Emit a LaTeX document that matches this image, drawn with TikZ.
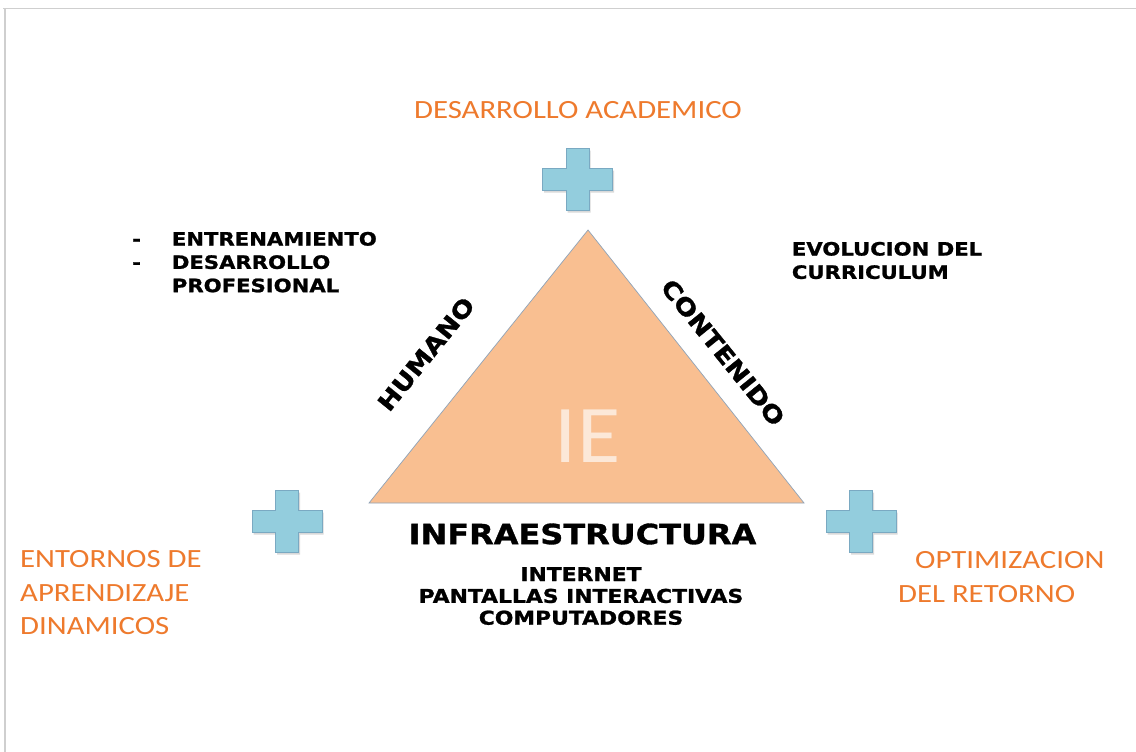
\documentclass[tikz,border=0pt]{standalone}
\usepackage{fontspec}
\newfontfamily\calfont{Carlito}[FakeStretch=1.17]
\newfontfamily\iefont{Carlito}[FakeStretch=1.08]
\newfontfamily\blkfont{DejaVu Sans}[FakeStretch=1.15, BoldFeatures={FakeBold=1.2}]
\definecolor{orangetxt}{HTML}{EE7A2D}
\definecolor{trifill}{HTML}{F9BF91}
\definecolor{triline}{HTML}{8FA3B8}
\definecolor{plusfill}{HTML}{93CDDD}
\definecolor{plusline}{HTML}{7AA9C2}
\definecolor{ietext}{HTML}{FCE8D8}
\definecolor{framegray}{HTML}{CFCFCF}
\tikzset{
  orangelbl/.style={inner sep=0pt, text=orangetxt, font=\calfont\fontsize{26.3}{33.5}\selectfont},
  blacklbl/.style={inner sep=0pt, text=black, font=\blkfont\bfseries\fontsize{18.4}{23.3}\selectfont},
  sidelbl/.style={inner sep=0pt, text=black, font=\blkfont\bfseries\fontsize{23.5}{28}\selectfont},
  plussign/.pic={
    \fill[black,opacity=.15,shift={(1.5,2.5)}]
      (-11.5,-31) -- (11.5,-31) -- (11.5,-11) -- (35,-11) -- (35,11) -- (11.5,11) -- (11.5,31)
      -- (-11.5,31) -- (-11.5,11) -- (-35,11) -- (-35,-11) -- (-11.5,-11) -- cycle;
    \filldraw[fill=plusfill, draw=plusline, line width=0.8pt]
      (-11.5,-31) -- (11.5,-31) -- (11.5,-11) -- (35,-11) -- (35,11) -- (11.5,11) -- (11.5,31)
      -- (-11.5,31) -- (-11.5,11) -- (-35,11) -- (-35,-11) -- (-11.5,-11) -- cycle;
  }
}
\begin{document}
\begin{tikzpicture}[x=1pt,y=-1pt]
\useasboundingbox (0,0) rectangle (1136,752);
\fill[white] (0,0) rectangle (1136,752);
% frame of the screenshot
\draw[framegray, line width=1pt] (3,9) -- (1136,9);
\draw[framegray, line width=2pt] (5,9) -- (5,752);

% triangle
\coordinate (apex) at (588,230);
\coordinate (bl) at (369,503);
\coordinate (br) at (804,503);
\filldraw[fill=trifill, draw=triline, line width=0.7pt] (apex) -- (bl) -- (br) -- cycle;
\node[inner sep=0pt, anchor=north, text=ietext, font=\iefont\fontsize{82}{90}\selectfont] (ie) at (587.5,410) {IE};

% plus signs
\pic (plustop) at (577.5,179) {plussign};
\pic (plusleft) at (287,521) {plussign};
\pic (plusright) at (861,521) {plussign};

% orange labels
\node[orangelbl, anchor=north] (acad) at (578,101) {DESARROLLO ACADEMICO};
\node[orangelbl, anchor=north west, align=left] (entornos) at (20,550.5) {ENTORNOS DE\\APRENDIZAJE\\DINAMICOS};
\node[orangelbl, anchor=north west, align=left] (optim) at (898,551.7) {\hspace*{17pt}OPTIMIZACION\\DEL RETORNO};

% black labels
\node[blacklbl, anchor=north west, align=left] (train) at (132,231.7)
  {\makebox[39.7pt][l]{-}ENTRENAMIENTO\\\makebox[39.7pt][l]{-}DESARROLLO\\\hspace*{39.7pt}PROFESIONAL};
\node[blacklbl, anchor=north west, align=left] (evol) at (791.7,241.7) {EVOLUCION DEL\\CURRICULUM};
\node[sidelbl, rotate=51] (humano) at (426,354) {HUMANO};
\node[sidelbl, rotate=-51] (contenido) at (723,352.5) {CONTENIDO};
\node[inner sep=0pt, anchor=north, font=\blkfont\bfseries\fontsize{27.8}{32}\selectfont] (infra) at (582.5,523.3) {INFRAESTRUCTURA};
\node[blacklbl, anchor=north, align=center, font=\blkfont\bfseries\fontsize{19}{21.8}\selectfont] (items) at (581,567)
  {INTERNET\\PANTALLAS INTERACTIVAS\\COMPUTADORES};
\end{tikzpicture}
\end{document}
